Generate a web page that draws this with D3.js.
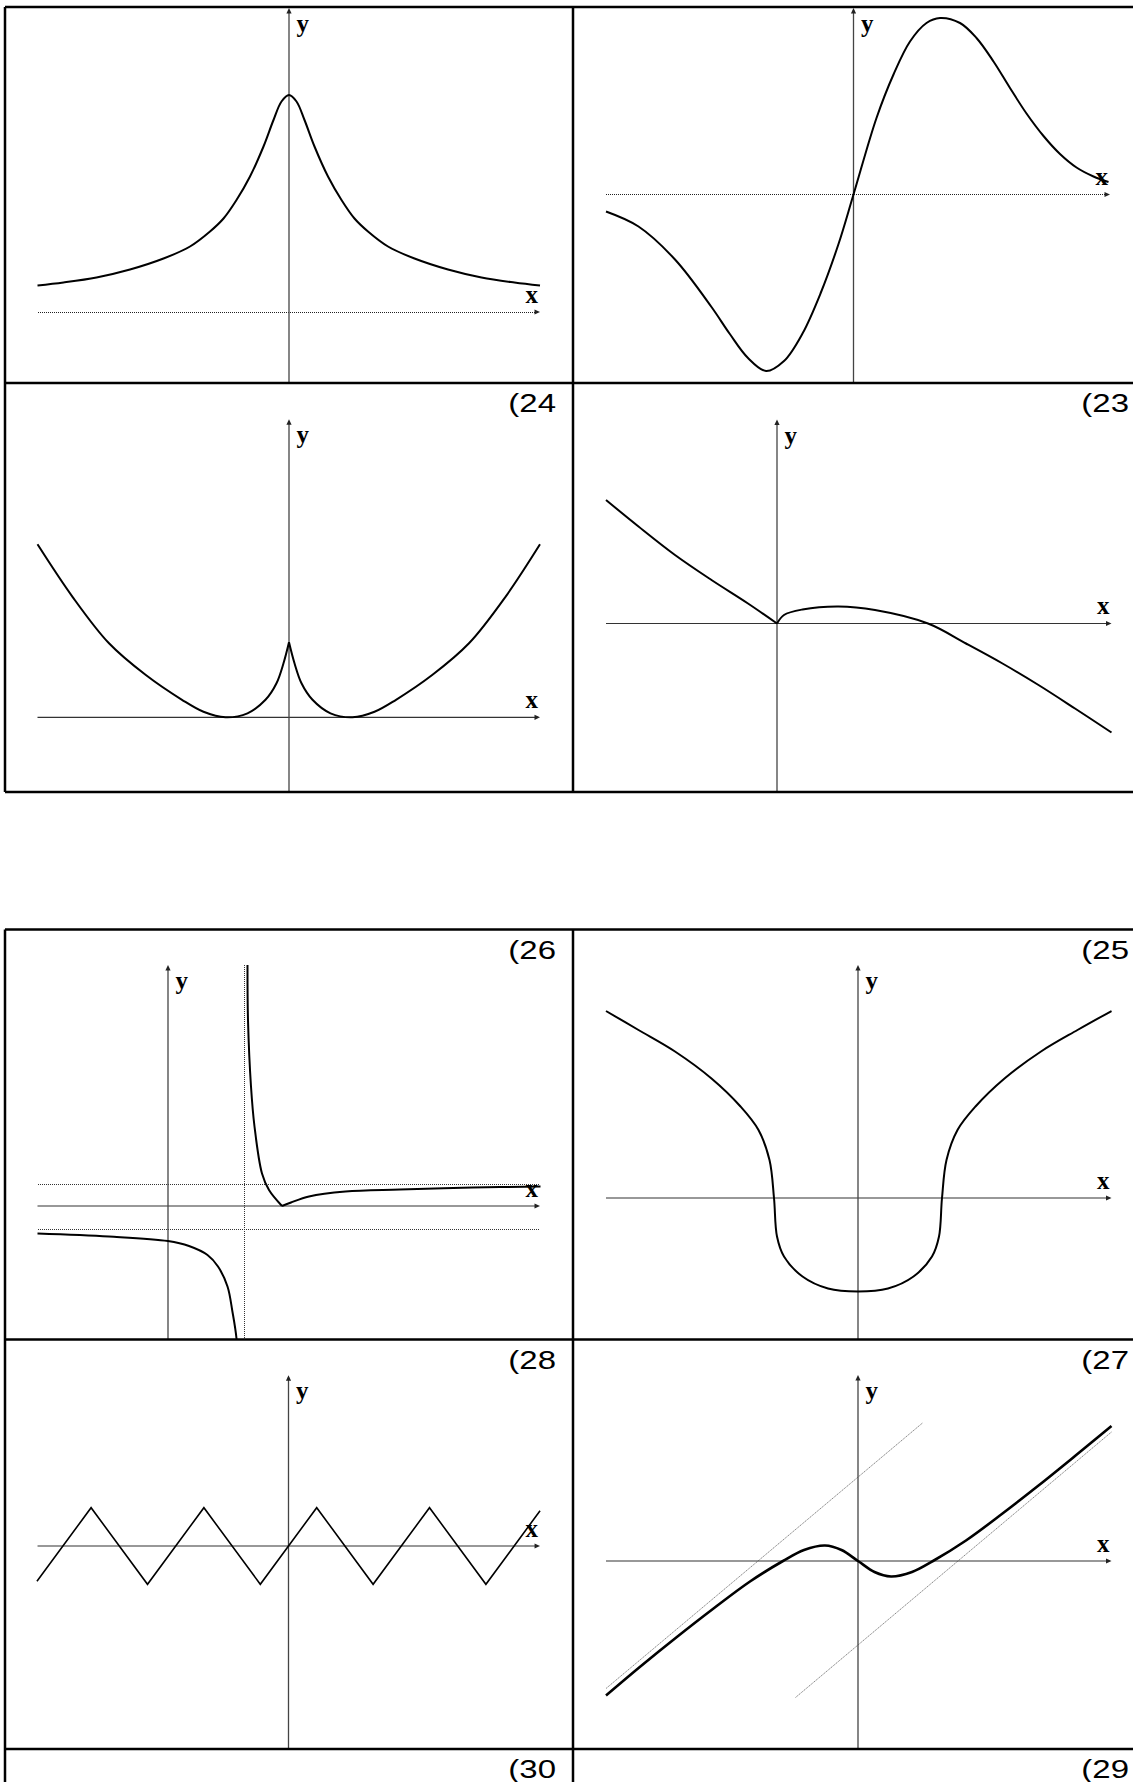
<!DOCTYPE html>
<html>
<head>
<meta charset="utf-8">
<script src="https://cdn.jsdelivr.net/npm/d3@7"></script>
<style>
html, body { margin: 0; padding: 0; background: #fff; }
svg { display: block; }
</style>
</head>
<body>
<div id="graph"></div>
<script>
var W = 1133, H = 1782

// cell numbers, in reading order of the cells that carry them
var cellLabels = ['(24', '(23', '(26', '(25', '(28', '(27', '(30', '(29']

// graph 1 : bell shaped peak
var p1X = [-5.03,-4.51,-3.85,-3.18,-2.51,-1.98,-1.58,-1.31,-1.05,-0.78,-0.51,-0.31,-0.15,0,0.15,0.31,0.51,0.78,1.05,1.31,1.58,1.98,2.51,3.18,3.85,4.51,5.02]
var p1Y = [0.53,0.59,0.69,0.85,1.07,1.31,1.61,1.87,2.24,2.71,3.31,3.84,4.21,4.34,4.21,3.84,3.31,2.71,2.24,1.87,1.61,1.31,1.07,0.85,0.69,0.59,0.53]

// graph 2 : odd wave through the origin
var p2X = [-4.95,-4.30,-3.57,-2.84,-2.48,-2.11,-1.75,-1.39,-1.02,-0.66,-0.30,0,0.46,0.80,1.13,1.46,1.73,2.13,2.46,2.80,3.13,3.46,3.80,4.13,4.46,4.80,5.10]
var p2Y = [-0.34,-0.64,-1.30,-2.25,-2.78,-3.27,-3.53,-3.33,-2.78,-1.98,-0.99,0,1.53,2.40,3.06,3.43,3.53,3.43,3.13,2.66,2.13,1.62,1.17,0.81,0.54,0.36,0.25]

// graph 3 : two minima and a cusp at x = 0
var p3LX = [-5.03,-4.33,-3.60,-2.87,-2.14,-1.71,-1.27,-0.83,-0.47,-0.25,-0.11,0]
var p3LY = [3.46,2.41,1.48,0.85,0.35,0.11,0,0.08,0.35,0.68,1.08,1.50]
var p3RX = [0,0.11,0.25,0.47,0.83,1.27,1.71,2.14,2.87,3.60,4.33,5.02]
var p3RY = [1.50,1.08,0.68,0.35,0.08,0,0.11,0.35,0.85,1.48,2.41,3.46]

// graph 4 : cusp at the origin
var p4LX = [-3.42,-2.77,-2.04,-1.31,-0.58,0]
var p4LY = [2.47,1.94,1.37,0.87,0.40,0]
var p4RX = [0,0.14,0.51,1.23,1.96,3.02,3.78,4.51,5.23,5.96,6.69]
var p4RY = [0,0.17,0.28,0.34,0.27,0,-0.40,-0.80,-1.23,-1.70,-2.18]

// graph 5 : asymptotes x = 1.52, y = 0.44, y = -0.46
var p5AX = [1.59,1.60,1.66,1.73,1.88,2.02,2.28]
var p5AY = [4.82,3.72,2.39,1.59,0.65,0.32,0]
var p5BX = [2.28,2.46,2.82,3.55,4.64,6.09,7.45]
var p5BY = [0,0.07,0.19,0.29,0.33,0.37,0.39]
var p5CX = [-2.61,-1.18,0,0.42,0.79,1.00,1.19,1.29,1.37,1.40]
var p5CY = [-0.55,-0.61,-0.70,-0.80,-0.98,-1.21,-1.61,-2.12,-2.65,-3.30]
var p5AsymX = 1.52
var p5AsymY = [0.44, -0.46]

// graph 6 : U shape with vertical tangents on the x axis
var p6X = [-5.04,-4.39,-3.66,-2.93,-2.35,-1.99,-1.77,-1.68,-1.62,-1.48,-1.11,-0.60,0,0.60,1.11,1.48,1.62,1.68,1.77,1.99,2.35,2.93,3.66,4.39,5.07]
var p6Y = [3.74,3.36,2.93,2.39,1.83,1.36,0.76,0,-0.77,-1.17,-1.57,-1.81,-1.87,-1.81,-1.57,-1.17,-0.77,0,0.76,1.36,1.83,2.39,2.93,3.36,3.74]

// graph 7 : triangle wave
var p7X = [-8.92,-7,-5,-3,-1,1,3,5,7,8.92]
var p7Y = [-0.92,1,-1,1,-1,1,-1,1,-1,0.92]

// graph 8 : odd curve between two oblique asymptotes
var p8X = [-5.04,-4.34,-3.61,-2.89,-2.16,-1.50,-1.08,-0.66,-0.33,0,0.33,0.66,1.08,1.50,2.16,2.89,3.61,4.34,5.07]
var p8Y = [-2.69,-2.10,-1.51,-0.95,-0.41,0,0.22,0.31,0.22,0,-0.22,-0.31,-0.22,0,0.41,0.95,1.51,2.10,2.70]
var p8UpperX = [-5.04, 1.29], p8UpperY = [-2.55, 2.76]
var p8LowerX = [-1.25, 5.07], p8LowerY = [-2.73, 2.58]

function pts(xs, ys) { return d3.zip(xs, ys) }

// table layout
var colX = [5, 573, 1145]
var rowsTop = [7, 383, 792]
var rowsBottom = [929.5, 1339.5, 1749, 1800]

var panels = [
  {cell: [5, 7, 573, 383],          ox: 289,   oy: 312,    ux: 50, uy: 50, xa: [-5.03, 5.02], yTop: 6.08, dotted: true,
   series: [{d: pts(p1X, p1Y)}]},
  {cell: [573, 7, 1145, 383],       ox: 853.5, oy: 194.5,  ux: 50, uy: 50, xa: [-4.95, 5.13], yTop: 3.73, dotted: true,
   series: [{d: pts(p2X, p2Y)}]},
  {cell: [5, 383, 573, 792],        ox: 289,   oy: 717.3,  ux: 50, uy: 50, xa: [-5.03, 5.02], yTop: 5.96,
   series: [{d: pts(p3LX, p3LY)}, {d: pts(p3RX, p3RY)}]},
  {cell: [573, 383, 1145, 792],     ox: 777,   oy: 623.5,  ux: 50, uy: 50, xa: [-3.42, 6.69], yTop: 4.08,
   series: [{d: pts(p4LX, p4LY)}, {d: pts(p4RX, p4RY)}]},
  {cell: [5, 929.5, 573, 1339.5],   ox: 168,   oy: 1206,   ux: 50, uy: 50, xa: [-2.61, 7.44], yTop: 4.82,
   series: [{d: pts(p5AX, p5AY)}, {d: pts(p5BX, p5BY)}, {d: pts(p5CX, p5CY)}], asym5: true},
  {cell: [573, 929.5, 1145, 1339.5], ox: 858,  oy: 1198,   ux: 50, uy: 50, xa: [-5.04, 5.07], yTop: 4.66,
   series: [{d: pts(p6X, p6Y)}]},
  {cell: [5, 1339.5, 573, 1749],    ox: 288.5, oy: 1546,   ux: 28.2, uy: 38.3, xa: [-8.9, 8.92], yTop: 4.46,
   series: [{d: pts(p7X, p7Y), linear: true, w: 1.6}]},
  {cell: [573, 1339.5, 1145, 1749], ox: 858,   oy: 1561,   ux: 50, uy: 50, xa: [-5.04, 5.07], yTop: 3.72,
   series: [{d: pts(p8X, p8Y), w: 2.6}], asym8: true}
]

var svg = d3.select('#graph')
  .append('svg')
  .attr('width', W)
  .attr('height', H)

var defs = svg.append('defs')

function arrowRight(g, x, y) {
  g.append('path')
    .attr('d', 'M' + x + ',' + y + 'L' + (x - 5.5) + ',' + (y - 2.6) + 'L' + (x - 5.5) + ',' + (y + 2.6) + 'Z')
    .attr('fill', '#222')
}
function arrowUp(g, x, y) {
  g.append('path')
    .attr('d', 'M' + x + ',' + y + 'L' + (x - 2.6) + ',' + (y + 5.5) + 'L' + (x + 2.6) + ',' + (y + 5.5) + 'Z')
    .attr('fill', '#222')
}

// a dotted guide, kept crisp so the dots stay dark
function dotted(g, x1, y1, x2, y2, colour) {
  return g.append('line')
    .attr('x1', x1).attr('x2', x2).attr('y1', y1).attr('y2', y2)
    .attr('stroke', colour).attr('stroke-width', 1)
    .attr('stroke-dasharray', '1,1')
    .attr('shape-rendering', 'crispEdges')
}

panels.forEach(function(p, i) {
  var x = d3.scaleLinear().domain([0, 1]).range([p.ox, p.ox + p.ux])
  var y = d3.scaleLinear().domain([0, 1]).range([p.oy, p.oy - p.uy])

  defs.append('clipPath').attr('id', 'clip' + i)
    .append('rect')
    .attr('x', p.cell[0]).attr('y', p.cell[1])
    .attr('width', p.cell[2] - p.cell[0]).attr('height', p.cell[3] - p.cell[1])

  var g = svg.append('g').attr('clip-path', 'url(#clip' + i + ')')
  var yBottom = y.invert(p.cell[3])

  // guide lines
  if (p.asym5) {
    dotted(g, x(p5AsymX), y(p.yTop), x(p5AsymX), y(yBottom), '#333')
    p5AsymY.forEach(function(v) {
      dotted(g, x(p.xa[0]), y(v), x(p.xa[1]), y(v), '#333')
    })
  }
  if (p.asym8) {
    [[p8UpperX, p8UpperY], [p8LowerX, p8LowerY]].forEach(function(a) {
      g.append('line')
        .attr('x1', x(a[0][0])).attr('x2', x(a[0][1]))
        .attr('y1', y(a[1][0])).attr('y2', y(a[1][1]))
        .attr('stroke', '#7a7a7a').attr('stroke-width', 0.9).attr('stroke-dasharray', '1.5,0.7')
    })
  }

  // axes
  if (p.dotted) {
    dotted(g, x(p.xa[0]), y(0), x(p.xa[1]) - 2, y(0), '#222')
  } else {
    g.append('line')
      .attr('x1', x(p.xa[0])).attr('x2', x(p.xa[1]) - 2)
      .attr('y1', y(0)).attr('y2', y(0))
      .attr('stroke', '#333').attr('stroke-width', 1.2)
  }
  arrowRight(g, x(p.xa[1]), y(0))

  g.append('line')
    .attr('x1', x(0)).attr('x2', x(0))
    .attr('y1', y(p.yTop) + 2).attr('y2', y(yBottom))
    .attr('stroke', '#444').attr('stroke-width', 1.3)
  arrowUp(g, x(0), y(p.yTop))

  // curves
  p.series.forEach(function(s) {
    var line = d3.line()
      .x(function(d) { return x(d[0]) })
      .y(function(d) { return y(d[1]) })
      .curve(s.linear ? d3.curveLinear : d3.curveCatmullRom.alpha(0.5))
    g.append('path')
      .attr('d', line(s.d))
      .attr('fill', 'none')
      .attr('stroke', '#000')
      .attr('stroke-width', s.w || 2)
      .attr('stroke-linejoin', 'miter')
  })

  // axis letters
  svg.append('text')
    .attr('x', x(0) + 7.5)
    .attr('y', y(p.yTop) + 24)
    .attr('font-family', '"Liberation Serif", "Times New Roman", serif')
    .attr('font-weight', 'bold')
    .attr('font-size', 25)
    .text('y')
  svg.append('text')
    .attr('x', x(p.xa[1]) - 2)
    .attr('y', y(0) - 9.5)
    .attr('text-anchor', 'end')
    .attr('font-family', '"Liberation Serif", "Times New Roman", serif')
    .attr('font-weight', 'bold')
    .attr('font-size', 25)
    .text('x')
})

// table borders
var grid = svg.append('g').attr('stroke', '#000').attr('stroke-width', 2.5).attr('fill', 'none')
rowsTop.forEach(function(v) {
  grid.append('line').attr('x1', colX[0]).attr('x2', colX[2]).attr('y1', v).attr('y2', v)
})
colX.forEach(function(v) {
  grid.append('line').attr('x1', v).attr('x2', v).attr('y1', rowsTop[0]).attr('y2', rowsTop[2])
})
rowsBottom.forEach(function(v) {
  grid.append('line').attr('x1', colX[0]).attr('x2', colX[2]).attr('y1', v).attr('y2', v)
})
colX.forEach(function(v) {
  grid.append('line').attr('x1', v).attr('x2', v).attr('y1', rowsBottom[0]).attr('y2', rowsBottom[3])
})

// cell numbers (the original lettering is drawn wide)
var labelRows = [rowsTop[1], rowsBottom[0], rowsBottom[1], rowsBottom[2]]
cellLabels.forEach(function(t, i) {
  var row = Math.floor(i / 2), col = i % 2
  svg.append('text')
    .attr('transform', 'translate(' + (col === 0 ? 556 : 1129) + ',' + (labelRows[row] + 29) + ') scale(1.32,1)')
    .attr('text-anchor', 'end')
    .attr('font-family', '"Liberation Sans", Arial, sans-serif')
    .attr('font-size', 25)
    .text(t)
})
</script>
</body>
</html>
